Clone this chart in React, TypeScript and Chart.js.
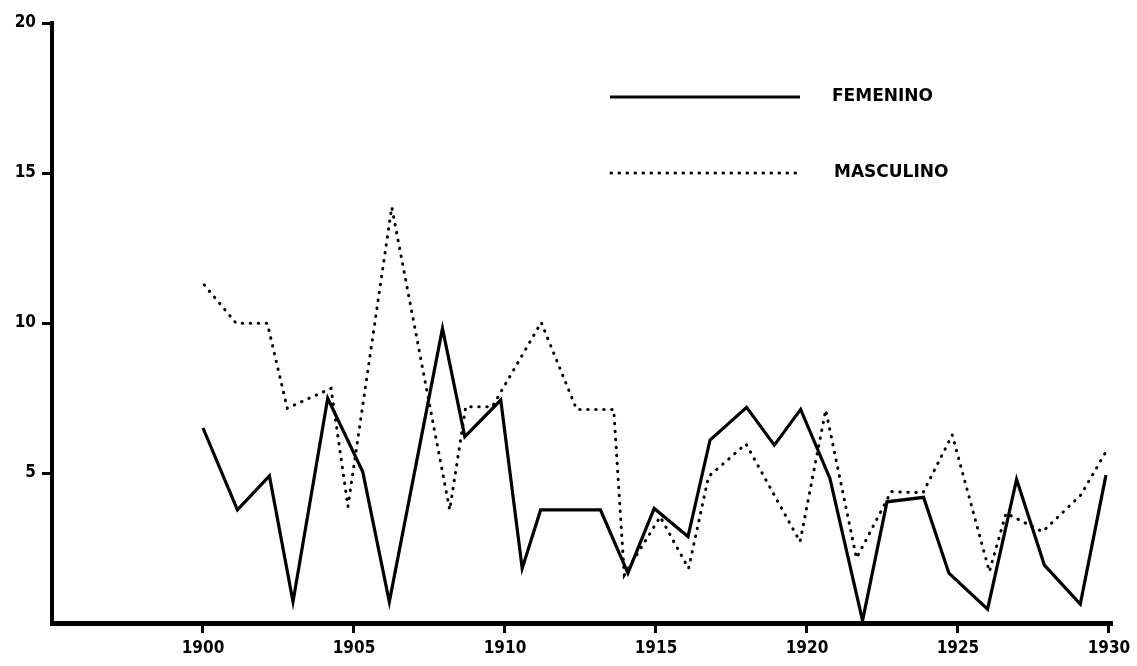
import React, { useEffect, useRef } from "react";
import { Chart, registerables } from "chart.js";

Chart.register(...registerables);

// Data (x = year position, y = value)
const femeninoYears = [1900.0, 1901.14, 1902.2, 1902.98, 1904.13, 1905.29, 1906.17, 1907.93, 1908.67, 1909.86, 1910.57, 1911.18, 1913.16, 1914.07, 1914.94, 1916.06, 1916.79, 1918.0, 1918.92, 1919.79, 1920.76, 1921.84, 1922.65, 1923.86, 1924.7, 1925.98, 1926.94, 1927.86, 1929.05, 1929.9];
const femeninoValues = [6.5, 3.77, 4.9, 0.71, 7.49, 5.04, 0.71, 9.82, 6.21, 7.43, 1.82, 3.77, 3.77, 1.66, 3.82, 2.88, 6.1, 7.19, 5.93, 7.12, 4.82, 0.08, 4.04, 4.19, 1.66, 0.46, 4.79, 1.93, 0.63, 4.93];

const masculinoYears = [1900.04, 1901.1, 1902.13, 1902.79, 1904.24, 1904.8, 1906.25, 1908.17, 1908.7, 1909.58, 1911.2, 1912.37, 1913.6, 1913.95, 1915.14, 1916.08, 1916.74, 1917.98, 1919.77, 1920.62, 1921.64, 1922.79, 1923.84, 1924.81, 1926.04, 1926.59, 1927.8, 1929.07, 1929.9];
const masculinoValues = [11.27, 9.99, 9.99, 7.16, 7.82, 3.88, 13.86, 3.77, 7.21, 7.21, 10.02, 7.12, 7.12, 1.6, 3.54, 1.82, 4.88, 5.97, 2.71, 7.1, 2.16, 4.38, 4.34, 6.27, 1.71, 3.66, 3.04, 4.27, 5.71];

const xTickValues = [1900, 1905, 1910, 1915, 1920, 1925, 1930];
const yTickValues = [5, 10, 15, 20];

const seriesLabels = ["FEMENINO", "MASCULINO"];

const DOT_DASH = [0.5, 7.5];

const legendPlugin = {
  id: "manualLegend",
  afterDraw(chart: any) {
    const ctx = chart.ctx;
    ctx.save();
    ctx.strokeStyle = "#000";
    ctx.fillStyle = "#000";
    // solid
    ctx.lineWidth = 3;
    ctx.setLineDash([]);
    ctx.lineCap = "butt";
    ctx.beginPath();
    ctx.moveTo(610, 97);
    ctx.lineTo(800, 97);
    ctx.stroke();
    // dotted
    ctx.lineWidth = 3;
    ctx.lineCap = "round";
    ctx.setLineDash(DOT_DASH);
    ctx.beginPath();
    ctx.moveTo(611, 173);
    ctx.lineTo(802, 173);
    ctx.stroke();
    ctx.setLineDash([]);
    ctx.font = 'bold 17px "DejaVu Sans"';
    ctx.textAlign = "left";
    ctx.textBaseline = "middle";
    ctx.fillText(seriesLabels[0], 832, 97);
    ctx.fillText(seriesLabels[1], 834, 173);
    ctx.restore();
  },
};

export default function App() {
  const canvasRef = useRef<HTMLCanvasElement | null>(null);

  useEffect(() => {
    if (!canvasRef.current) return;
    const chart = new Chart(canvasRef.current, {
      type: "line",
      data: {
        datasets: [
          {
            label: seriesLabels[1],
            data: masculinoYears.map((x, i) => ({ x, y: masculinoValues[i] })),
            borderColor: "#000",
            borderWidth: 3,
            borderDash: DOT_DASH,
            borderCapStyle: "round",
            pointRadius: 0,
            tension: 0,
            fill: false,
          },
          {
            label: seriesLabels[0],
            data: femeninoYears.map((x, i) => ({ x, y: femeninoValues[i] })),
            borderColor: "#000",
            borderWidth: 3.2,
            borderJoinStyle: "miter",
            pointRadius: 0,
            tension: 0,
            fill: false,
          },
        ],
      },
      options: {
        animation: false,
        responsive: false,
        layout: { padding: { left: 0, top: 23, right: 25, bottom: 0 } },
        plugins: { legend: { display: false }, tooltip: { enabled: false } },
        scales: {
          x: {
            type: "linear",
            min: 1895,
            max: 1930.1,
            afterBuildTicks: (scale: any) => {
              scale.ticks = xTickValues.map((v) => ({ value: v }));
            },
            afterFit: (scale: any) => {
              scale.height = 43;
            },
            ticks: {
              autoSkip: false,
              maxRotation: 0,
              color: "#000",
              padding: 5,
              font: { family: '"DejaVu Sans Condensed", "DejaVu Sans"', size: 17, weight: "bold" },
              callback: (v: any) => String(v),
            },
            grid: {
              display: true,
              drawOnChartArea: false,
              drawTicks: true,
              tickLength: 10,
              tickWidth: 3,
              tickColor: "#000",
            },
            border: { display: true, color: "#000", width: 5 },
          },
          y: {
            type: "linear",
            min: 0,
            max: 20,
            afterBuildTicks: (scale: any) => {
              scale.ticks = yTickValues.map((v) => ({ value: v }));
            },
            afterFit: (scale: any) => {
              scale.width = 52;
            },
            ticks: {
              color: "#000",
              padding: 6,
              font: { family: '"DejaVu Sans Condensed", "DejaVu Sans"', size: 17, weight: "bold" },
              callback: (v: any) => String(v),
            },
            grid: {
              display: true,
              drawOnChartArea: false,
              drawTicks: true,
              tickLength: 10,
              tickWidth: 3,
              tickColor: "#000",
            },
            border: { display: true, color: "#000", width: 4 },
          },
        },
      },
      plugins: [legendPlugin],
    });
    return () => chart.destroy();
  }, []);

  return (
    <div style={{ position: "absolute", left: 0, top: 0, width: 1137, height: 666, background: "#fff" }}>
      <canvas ref={canvasRef} width={1137} height={666} style={{ display: "block" }} />
    </div>
  );
}
